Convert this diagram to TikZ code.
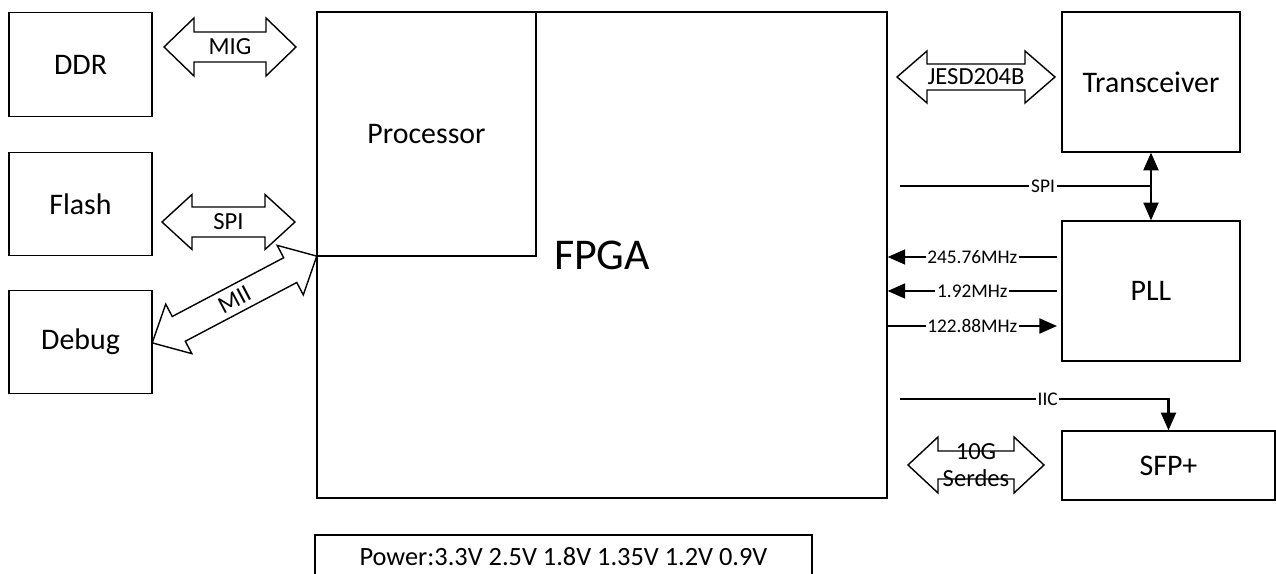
\documentclass[tikz,border=0pt]{standalone}
\usepackage{fontspec}
\setmainfont{Carlito}
\usetikzlibrary{arrows.meta,positioning,calc}
\tikzset{box/.style={draw,line width=.8pt,inner sep=0pt,font=\fontsize{17}{20}\selectfont},
 blk/.style={draw,line width=.8pt,fill=white,line join=miter},
 blklbl/.style={inner sep=0pt,align=center,font=\fontsize{14}{16}\selectfont},
 sig/.style={line width=1.2pt},
 tip/.style={-{Triangle[length=10pt,width=8.5pt]}},
 lbl/.style={fill=white,inner sep=1pt,font=\fontsize{11}{13}\selectfont}}
% double block arrow: name, centre, angle, half length, half breadth, half shaft, text
\newcommand{\dblarrow}[7]{%
 \begin{scope}[shift={#2},rotate=#3]
 \draw[blk] ({-#4},0) -- ({-#4+30},#5) -- ({-#4+30},#6) -- ({#4-30},#6) -- ({#4-30},#5) -- ({#4},0)
  -- ({#4-30},{-#5}) -- ({#4-30},{-#6}) -- ({-#4+30},{-#6}) -- ({-#4+30},{-#5}) -- cycle;
 \node[blklbl,rotate=#3] (#1) at (0,0) {#7};
 \end{scope}}
\begin{document}
\begin{tikzpicture}[x=0.02cm,y=-0.02cm]
\useasboundingbox (0,0) rectangle (1276,574);
\clip (0,0) rectangle (1276,574);
% left side
\node[box,minimum width=2.86cm,minimum height=2.08cm] (ddr) at (80.5,64.5) {DDR};
\node[box,minimum width=2.86cm,minimum height=2.06cm] (flash) at (80.5,204) {Flash};
\node[box,minimum width=2.86cm,minimum height=2.06cm] (debug) at (80.5,342) {Debug};
% fpga
\node[box,minimum width=11.40cm,minimum height=9.72cm,font=\fontsize{25}{30}\selectfont] (fpga) at (602,255) {FPGA};
\node[box,minimum width=4.38cm,minimum height=4.88cm] (cpu) at (426.5,134) {Processor};
\node[box,minimum width=9.94cm,minimum height=0.88cm,font=\fontsize{15}{18}\selectfont] (pwr) at (563.5,557) {Power:3.3V 2.5V 1.8V 1.35V 1.2V 0.9V};
% right side
\node[box,minimum width=3.56cm,minimum height=2.80cm] (trx) at (1151,82) {Transceiver};
\node[box,minimum width=3.56cm,minimum height=2.80cm] (pll) at (1151,291) {PLL};
\node[box,minimum width=4.26cm,minimum height=1.38cm] (sfp) at (1168.5,465.5) {SFP+};
% block arrows
\dblarrow{mig}{(230,47)}{0}{66}{29}{15}{MIG}
\dblarrow{qspi}{(228.5,222)}{0}{66.5}{27.5}{15}{SPI}
\dblarrow{mii}{(234.5,299.5)}{27.8}{93}{28}{14}{MII}
\dblarrow{jesd}{(976,77)}{0}{79}{26}{13}{JESD204B}
\dblarrow{serdes}{(976,465)}{0}{68}{28}{14}{10G\\[-1pt]Serdes}
% signals
\coordinate (spis) at (900,186);
\coordinate (spij) at (trx.south |- spis);
\draw[sig] (spis) -- node[lbl,pos=.57]{SPI} (spij);
\draw[sig,{Triangle[length=10pt,width=8.5pt]}-{Triangle[length=10pt,width=8.5pt]}] (trx.south) -- (pll.north);
\coordinate (clka) at (1057,257);
\coordinate (clkb) at (1057,291);
\coordinate (clkc) at (1057,326);
\draw[sig,tip] (clka) -- node[lbl]{245.76MHz} (fpga.east |- clka);
\draw[sig,tip] (clkb) -- node[lbl]{1.92MHz} (fpga.east |- clkb);
\draw[sig,tip] (fpga.east |- clkc) -- node[lbl]{122.88MHz} (clkc);
\coordinate (iics) at (900,399);
\coordinate (iicb) at (sfp.north |- iics);
\draw[sig,tip] (iics) -- node[lbl,pos=.55]{IIC} (iicb) -- (sfp.north);
\end{tikzpicture}
\end{document}
